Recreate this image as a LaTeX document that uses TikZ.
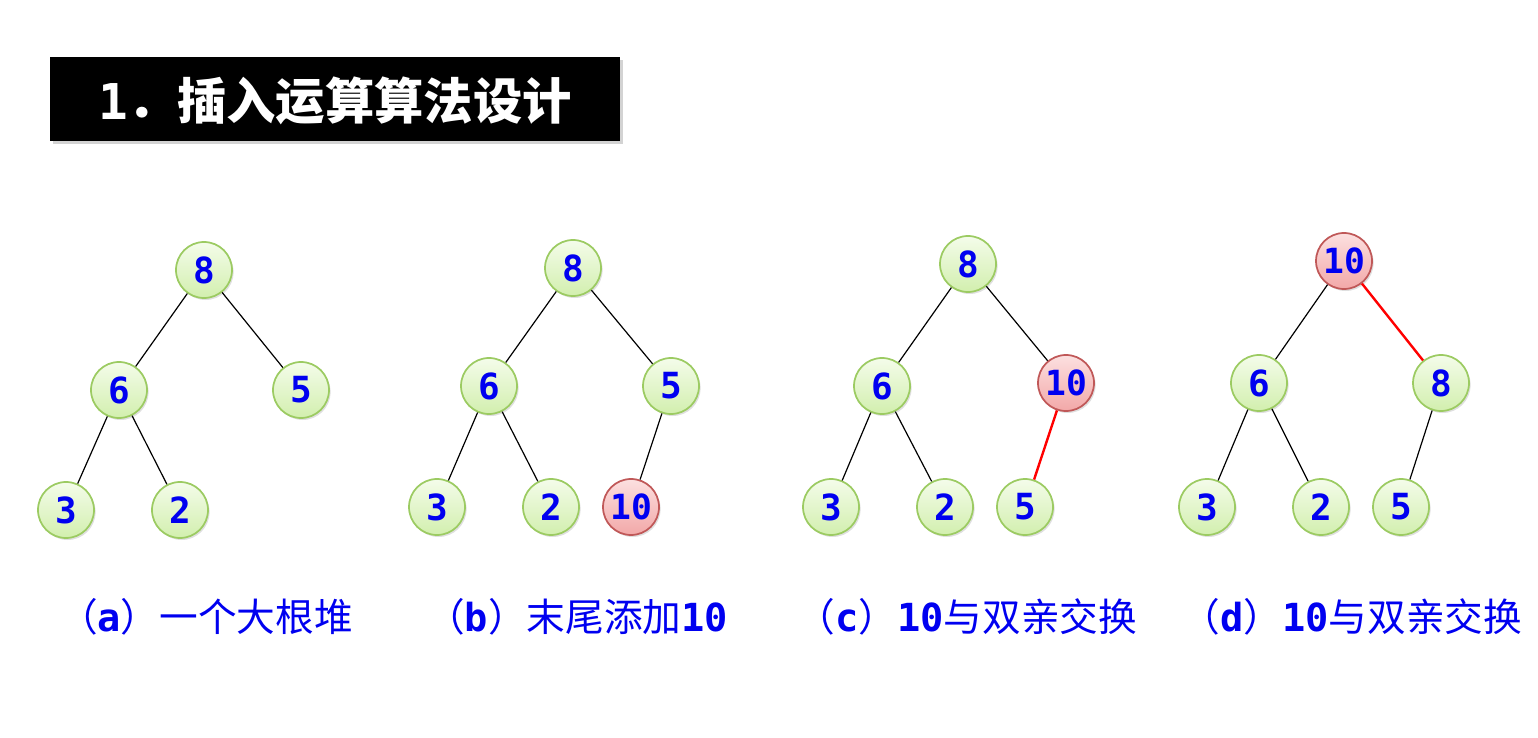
\documentclass[tikz,border=0pt]{standalone}
\usepackage{fontspec}
\usetikzlibrary{shadows}
\newfontfamily\cjk{Noto Sans CJK SC}
\newfontfamily\mono{DejaVu Sans Mono}
\definecolor{numblue}{HTML}{0000F0}
\definecolor{gfill1}{HTML}{F4FCEA}
\definecolor{gfill2}{HTML}{D2EFAE}
\definecolor{gborder}{HTML}{9CCB62}
\definecolor{rfill1}{HTML}{FCE0E0}
\definecolor{rfill2}{HTML}{F2A8A8}
\definecolor{rborder}{HTML}{C05858}
\begin{document}
\begin{tikzpicture}[x=0.75pt,y=-0.75pt,
  gnode/.style={circle,minimum size=42pt,inner sep=0pt,line width=1.3pt,draw=gborder,
    top color=gfill1,bottom color=gfill2,
    drop shadow={opacity=0.25,shadow xshift=1.2pt,shadow yshift=-1.5pt},
    font=\mono\bfseries\fontsize{27}{27}\selectfont,text=numblue},
  rnode/.style={gnode,draw=rborder,top color=rfill1,bottom color=rfill2,
    font=\mono\bfseries\fontsize{26}{26}\selectfont},
  edge/.style={draw=black,line width=0.9pt},
  redge/.style={draw=red,line width=1.8pt},
  lab/.style={font=\cjk\fontsize{29}{30}\selectfont,text=numblue,inner sep=0pt},
  titlebox/.style={fill=black,minimum width=427.5pt,minimum height=63pt,inner sep=0pt,
    drop shadow={opacity=0.35,shadow xshift=2pt,shadow yshift=-2.5pt}}
]
\useasboundingbox (0,0) rectangle (1538,738);
% title
\node[titlebox] (title) at (335,99) {};
\node[text=white,font=\cjk\bfseries\fontsize{37}{38}\selectfont,inner sep=0pt] (tt) at (335,101)
  {{\mono\bfseries 1}．插入运算算法设计};

% tree a
\node[gnode] (a8) at (204,270) {8};
\node[gnode] (a6) at (119,390) {6};
\node[gnode] (a5) at (301,390) {5};
\node[gnode] (a3) at (66,510) {3};
\node[gnode] (a2) at (180,510) {2};
\draw[edge] (a8) -- (a6); \draw[edge] (a8) -- (a5);
\draw[edge] (a6) -- (a3); \draw[edge] (a6) -- (a2);

% tree b
\node[gnode] (b8) at (573,268) {8};
\node[gnode] (b6) at (489,386) {6};
\node[gnode] (b5) at (671,386) {5};
\node[gnode] (b3) at (437,507) {3};
\node[gnode] (b2) at (551,507) {2};
\node[rnode] (b10) at (631,507) {10};
\draw[edge] (b8) -- (b6); \draw[edge] (b8) -- (b5);
\draw[edge] (b6) -- (b3); \draw[edge] (b6) -- (b2);
\draw[edge] (b5) -- (b10);

% tree c
\node[gnode] (c8) at (968,264) {8};
\node[gnode] (c6) at (882,386) {6};
\node[rnode] (c10) at (1066,383) {10};
\node[gnode] (c3) at (831,507) {3};
\node[gnode] (c2) at (945,507) {2};
\node[gnode] (c5) at (1025,507) {5};
\draw[edge] (c8) -- (c6); \draw[edge] (c8) -- (c10);
\draw[edge] (c6) -- (c3); \draw[edge] (c6) -- (c2);
\draw[redge] (c10) -- (c5);

% tree d
\node[rnode] (d10) at (1344,261) {10};
\node[gnode] (d6) at (1259,383) {6};
\node[gnode] (d8) at (1441,383) {8};
\node[gnode] (d3) at (1207,507) {3};
\node[gnode] (d2) at (1321,507) {2};
\node[gnode] (d5) at (1401,507) {5};
\draw[edge] (d10) -- (d6); \draw[redge] (d10) -- (d8);
\draw[edge] (d6) -- (d3); \draw[edge] (d6) -- (d2);
\draw[edge] (d8) -- (d5);

% labels
\node[lab] (la) at (206,617) {（{\mono\bfseries a}）一个大根堆};
\node[lab] (lb) at (577,617) {（{\mono\bfseries b}）末尾添加{\mono\bfseries 10}};
\node[lab] (lc) at (967,617) {（{\mono\bfseries c}）{\mono\bfseries 10}与双亲交换};
\node[lab] (ld) at (1352,617) {（{\mono\bfseries d}）{\mono\bfseries 10}与双亲交换};
\end{tikzpicture}
\end{document}
